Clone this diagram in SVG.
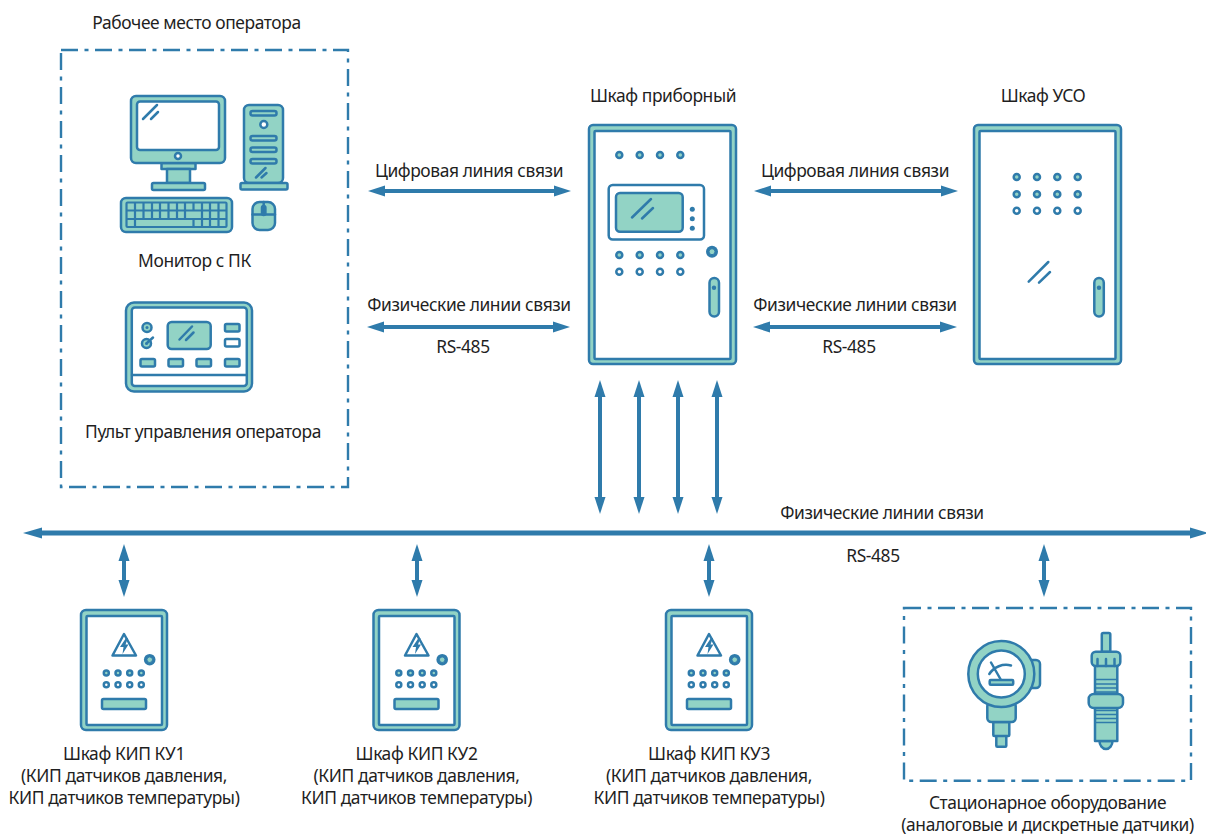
<svg xmlns="http://www.w3.org/2000/svg" width="1206" height="834" viewBox="0 0 1206 834">
<style>
text{font-family:"Noto Sans","Open Sans",sans-serif;font-size:17.400px;letter-spacing:-.4px;fill:#1f1f1f;text-anchor:middle}
.s{stroke:#2f7bab;stroke-width:2.500;stroke-linejoin:round;stroke-linecap:round}
.f{fill:#92d3c5}
.w{fill:#fff}
.n{fill:none}
.d{fill:#2f7bab;stroke:none}
.dash{fill:none;stroke:#2f7bab;stroke-width:2.400;stroke-dasharray:17 6.500 4 6.500}
.ar{stroke:#2f7bab;stroke-width:4;fill:none}
.arb{stroke:#2f7bab;stroke-width:5;fill:none}
</style>
<defs>
<marker id="h" markerUnits="userSpaceOnUse" markerWidth="20" markerHeight="14" refX="0" refY="7" orient="auto-start-reverse"><path d="M0 1.500L17 7L0 12.500Z" fill="#2f7bab"/></marker>
<marker id="hb" markerUnits="userSpaceOnUse" markerWidth="22" markerHeight="14" refX="0" refY="7" orient="auto-start-reverse"><path d="M0 1.500L19 7L0 12.500Z" fill="#2f7bab"/></marker>
<g id="ku">
<rect class="s f" x="81" y="610" width="86" height="120" rx="5"/>
<rect class="s w" x="86.500" y="616" width="75.500" height="109" rx="1"/>
<path class="s w" d="M124 634L136 655.500H112.500Z"/>
<path class="d" d="M126 638L120 647L123.500 647L122.500 654L128.500 644.500L125.500 644.500L128 638Z"/>
<circle class="d" cx="149.700" cy="659.700" r="5.800"/><circle class="f" cx="149.700" cy="659.700" r="2.800" stroke="#2f7bab" stroke-width="1"/>
<g class="s f">
<circle cx="106.300" cy="673" r="2.500"/><circle cx="118" cy="673" r="2.500"/><circle cx="129.700" cy="673" r="2.500"/><circle cx="141.300" cy="673" r="2.500"/>
</g>
<g class="s w">
<circle cx="106.300" cy="684.700" r="2.500"/><circle cx="118" cy="684.700" r="2.500"/><circle cx="129.700" cy="684.700" r="2.500"/><circle cx="141.300" cy="684.700" r="2.500"/>
</g>
<rect class="s f" x="102" y="699" width="44" height="10" rx="1.500"/>
</g>
</defs>
<rect width="1206" height="834" fill="#fff"/>

<g id="operator-area">
<rect class="dash" x="61" y="50" width="287" height="437"/>
<text x="196.500" y="28.500">Рабочее место оператора</text>
</g>

<g id="monitor-pc">
<rect class="s f" x="161.500" y="163" width="34" height="6"/>
<rect class="s f" x="167" y="169" width="23" height="14"/>
<rect class="s f" x="152" y="183" width="53" height="7" rx="1.500"/>
<rect class="s f" x="131" y="96" width="94" height="67" rx="5"/>
<rect class="s w" x="137" y="101.500" width="82" height="48.500" rx="3"/>
<circle class="s w" cx="178" cy="156" r="3"/>
<path class="s n" d="M143 119L157 105M151 119L158 112"/>
<rect class="s f" x="244" y="105" width="39" height="78" rx="5"/>
<rect class="s f" x="240.500" y="183" width="47" height="6.500" rx="1.500"/>
<g class="s w"><circle cx="263.800" cy="124.500" r="3.500"/></g>
<g class="s f"><rect x="250.500" y="111" width="26" height="4.500" rx="2"/><rect x="250.500" y="136" width="26" height="4.500" rx="2"/><rect x="250.500" y="147.500" width="26" height="4.500" rx="2"/><rect x="250.500" y="159" width="26" height="4.500" rx="2"/></g>
<path class="s n" d="M256 177.500L265.500 168M261.500 177.500L266.500 173"/>
<rect class="s f" x="121" y="198" width="111" height="34" rx="5"/>
<g stroke="#2f7bab" stroke-width="2.200" fill="none">
<rect x="126.500" y="202.500" width="100" height="24.500" rx="1"/>
<path d="M126.500 210.500H226.500M126.500 219H226.500"/>
<path d="M135 202.500V227M143.500 202.500V219M152 202.500V219M160 202.500V219M168.500 202.500V219M177 202.500V219M185 202.500V219M193.500 202.500V210.500M202 202.500V227M210 202.500V227M218.500 202.500V227M193.500 219V227"/>
</g>
<rect class="s f" x="252.500" y="202" width="22.500" height="28" rx="7"/>
<path class="s n" d="M252.500 214.500H275M263.700 202V208"/>
<rect class="s" fill="#2f7bab" x="262" y="206" width="3.400" height="9" rx="1.700"/>
<text x="194.500" y="266.500">Монитор с ПК</text>
</g>

<g id="operator-panel">
<rect class="s f" x="126" y="302.500" width="126" height="89" rx="8"/>
<rect class="s w" x="131.800" y="307.500" width="115" height="78.500" rx="3"/>
<path class="s n" d="M132 375H246.500"/>
<circle class="s f" cx="147" cy="327.500" r="4.500"/><circle class="d" cx="147" cy="327.500" r="1.500"/>
<circle class="s f" cx="146.500" cy="343.500" r="4.500"/><circle class="d" cx="146.500" cy="343.500" r="1.500"/>
<path class="s n" d="M147 343L153 337.500"/>
<rect class="s f" x="167.700" y="322" width="43" height="27" rx="4"/>
<path class="s n" d="M179.500 339.500L192 326.500M186 340L193.500 332.500"/>
<rect class="s f" x="225" y="324" width="14.500" height="7.500" rx="1.500"/>
<rect class="s w" x="225" y="339" width="14.500" height="7.500" rx="1.500"/>
<rect class="s f" x="140.500" y="359" width="14.500" height="7.500" rx="1.500"/>
<rect class="s f" x="168.500" y="359" width="14.500" height="7.500" rx="1.500"/>
<rect class="s f" x="196.500" y="359" width="14.500" height="7.500" rx="1.500"/>
<rect class="s f" x="225" y="359" width="14.500" height="7.500" rx="1.500"/>
<text x="203" y="437.500">Пульт управления оператора</text>
</g>

<g id="cabinet-main">
<rect class="s f" x="589" y="125" width="147" height="239" rx="4"/>
<rect class="s w" x="594.500" y="131" width="136" height="228" rx="1"/>
<g class="s f">
<circle cx="619.300" cy="155" r="3"/><circle cx="639.700" cy="155" r="3"/><circle cx="660" cy="155" r="3"/><circle cx="680.300" cy="155" r="3"/>
<circle cx="619.300" cy="255" r="3"/><circle cx="639.700" cy="255" r="3"/><circle cx="660" cy="255" r="3"/><circle cx="680.300" cy="255" r="3"/>
</g>
<g class="s w">
<circle cx="619.300" cy="271.700" r="3"/><circle cx="639.700" cy="271.700" r="3"/><circle cx="660" cy="271.700" r="3"/><circle cx="680.300" cy="271.700" r="3"/>
</g>
<rect class="s w" x="608.700" y="185" width="95.300" height="54.500" rx="4"/>
<rect class="s f" x="616" y="193" width="66.700" height="38.700" rx="4"/>
<path class="s n" d="M632 217.500L651 199M642 218.500L653 208"/>
<circle class="d" cx="692.300" cy="209.300" r="2.500"/><circle class="d" cx="692.300" cy="218.700" r="2.500"/><circle class="d" cx="692.300" cy="228.300" r="2.500"/>
<circle class="d" cx="712" cy="251.700" r="6"/><circle class="f" cx="712" cy="251.700" r="3" stroke="#2f7bab" stroke-width="1"/>
<rect class="s f" x="709.500" y="278" width="9.500" height="38.500" rx="4.700"/>
<circle class="d" cx="714" cy="287.700" r="2.200"/>
<text x="663" y="101.500">Шкаф приборный</text>
</g>

<g id="cabinet-uso">
<rect class="s f" x="974" y="125" width="147" height="239" rx="4"/>
<rect class="s w" x="979.500" y="131" width="136" height="228" rx="1"/>
<g class="s f">
<circle cx="1016.700" cy="177" r="3"/><circle cx="1037" cy="177" r="3"/><circle cx="1057.300" cy="177" r="3"/><circle cx="1077.700" cy="177" r="3"/>
<circle cx="1016.700" cy="194.300" r="3"/><circle cx="1037" cy="194.300" r="3"/><circle cx="1057.300" cy="194.300" r="3"/><circle cx="1077.700" cy="194.300" r="3"/>
</g>
<g class="s w">
<circle cx="1016.700" cy="210.700" r="3"/><circle cx="1037" cy="210.700" r="3"/><circle cx="1057.300" cy="210.700" r="3"/><circle cx="1077.700" cy="210.700" r="3"/>
</g>
<path class="s n" d="M1028.700 281.700L1048.300 262M1039 282.700L1050 272"/>
<rect class="s f" x="1094.300" y="278" width="9.500" height="38.500" rx="4.700"/>
<circle class="d" cx="1099" cy="287.700" r="2.200"/>
<text x="1043" y="101.500">Шкаф УСО</text>
</g>

<g id="cabinet-ku1"><use href="#ku"/><text x="124" y="760">Шкаф КИП КУ1</text><text x="124" y="782">(КИП датчиков давления,</text><text x="124" y="804">КИП датчиков температуры)</text></g>
<g id="cabinet-ku2"><use href="#ku" x="292.500"/><text x="416.500" y="760">Шкаф КИП КУ2</text><text x="416.500" y="782">(КИП датчиков давления,</text><text x="416.500" y="804">КИП датчиков температуры)</text></g>
<g id="cabinet-ku3"><use href="#ku" x="585"/><text x="709" y="760">Шкаф КИП КУ3</text><text x="709" y="782">(КИП датчиков давления,</text><text x="709" y="804">КИП датчиков температуры)</text></g>

<g id="stationary-equipment">
<rect class="dash" x="904" y="608" width="287" height="172.700"/>
<rect class="s f" x="1028" y="660" width="12" height="28" rx="4"/>
<rect class="s f" x="996.300" y="735" width="10" height="11.700" rx="1"/>
<rect class="s f" x="993.300" y="722" width="16" height="14" rx="1"/>
<rect class="s f" x="987.300" y="702" width="28.400" height="20" rx="4"/>
<circle class="s f" cx="1001.300" cy="674" r="33"/>
<circle class="s w" cx="1001.300" cy="674" r="23.500"/>
<path class="s n" d="M989.300 674A20 20 0 0 1 1011 665.500M991 662.500L1001 680"/>
<rect class="s f" x="989.700" y="680" width="23.500" height="4.800" rx="1"/>
<rect class="s f" x="1101.800" y="633" width="8.500" height="19" rx="1.500"/>
<path class="s f" d="M1099.500 741A6.500 8 0 0 0 1112.500 741Z"/>
<rect class="s f" x="1095" y="665" width="22.300" height="29"/>
<rect class="s f" x="1095" y="707" width="22.300" height="34"/>
<path class="s n" d="M1095 679.500H1117.300M1095 684H1117.300M1095 688H1117.300M1095 692H1117.300M1095 710.500H1117.300M1095 714.500H1117.300M1095 718.500H1117.300M1095 722.500H1117.300" style="stroke-width:1.500"/>
<rect class="s f" x="1091.700" y="651.700" width="28.600" height="14.300" rx="4"/>
<path class="s n" d="M1097.500 659V666M1106 659V666M1114.500 659V666"/>
<rect class="s f" x="1088.700" y="694" width="34.300" height="14" rx="5"/>
<text x="1047.500" y="809">Стационарное оборудование</text>
<text x="1047.500" y="831">(аналоговые и дискретные датчики)</text>
</g>

<g id="connectors">
<path class="ar" marker-start="url(#h)" marker-end="url(#h)" d="M385 191H554"/>
<path class="ar" marker-start="url(#h)" marker-end="url(#h)" d="M384 327H553"/>
<path class="ar" marker-start="url(#h)" marker-end="url(#h)" d="M771 191H941"/>
<path class="ar" marker-start="url(#h)" marker-end="url(#h)" d="M770 327H940"/>
<path class="ar" marker-start="url(#h)" marker-end="url(#h)" d="M600 397V497"/>
<path class="ar" marker-start="url(#h)" marker-end="url(#h)" d="M639 397V497"/>
<path class="ar" marker-start="url(#h)" marker-end="url(#h)" d="M678 397V497"/>
<path class="ar" marker-start="url(#h)" marker-end="url(#h)" d="M717 397V497"/>
<path class="arb" marker-start="url(#hb)" marker-end="url(#hb)" d="M42 533H1190"/>
<path class="ar" marker-start="url(#h)" marker-end="url(#h)" d="M124 561V580"/>
<path class="ar" marker-start="url(#h)" marker-end="url(#h)" d="M417 561V580"/>
<path class="ar" marker-start="url(#h)" marker-end="url(#h)" d="M709 561V580"/>
<path class="ar" marker-start="url(#h)" marker-end="url(#h)" d="M1044 561V580"/>
</g>

<g id="labels">
<text x="469" y="177">Цифровая линия связи</text>
<text x="855" y="177">Цифровая линия связи</text>
<text x="469" y="311">Физические линии связи</text>
<text x="855" y="311">Физические линии связи</text>
<text x="463" y="353">RS-485</text>
<text x="849" y="353">RS-485</text>
<text x="882" y="519">Физические линии связи</text>
<text x="873" y="562">RS-485</text>
</g>
</svg>
